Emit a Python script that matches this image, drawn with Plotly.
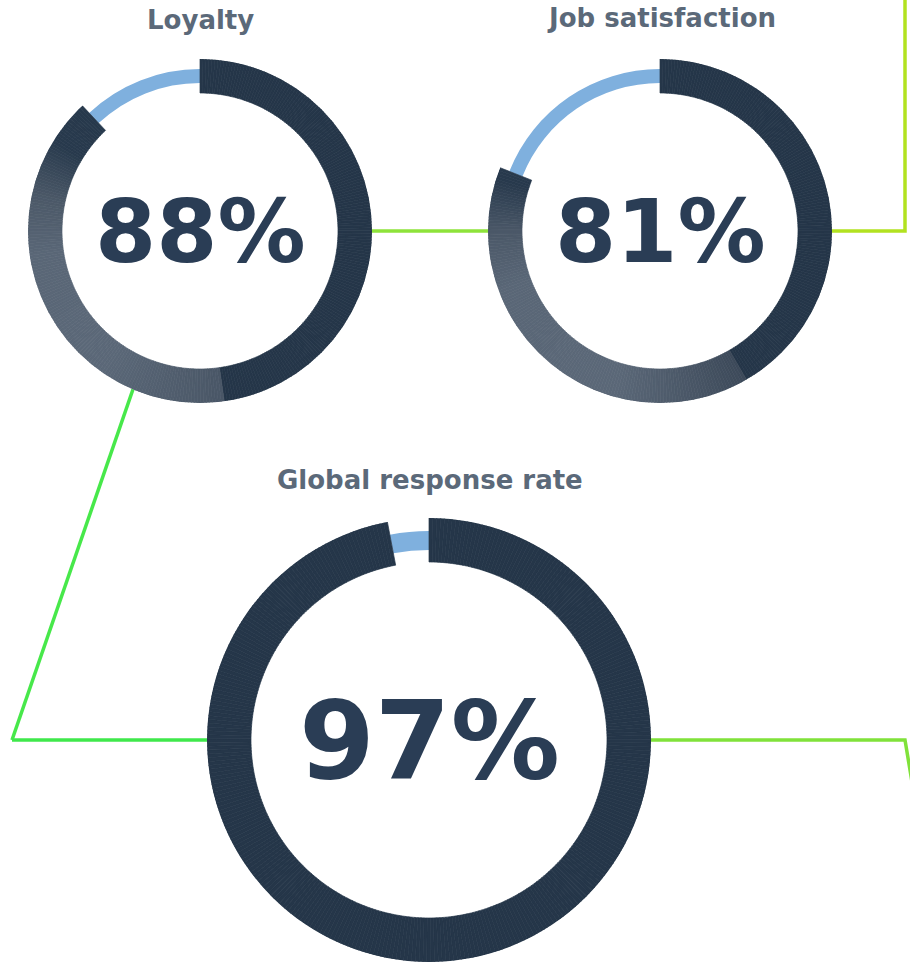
import numpy as np
import plotly.graph_objects as go

# ---- data -------------------------------------------------------------
metrics = ["Loyalty", "Job satisfaction", "Global response rate"]
scores = [88, 81, 97]          # percent

# ---- canvas / styling ---------------------------------------------------
W, H = 910, 970
DARK = "#253649"
TRACK = "#7fb0de"
TITLE_C = "#5b6979"
VALUE_C = "#2a3d55"
FONT = "DejaVu Sans"

# geometry of each gauge in pixels
rings = [
    dict(cx=200, cy=231, ro=172, ri=138, t0=148, t1=162, fs=88, ty=20, tx=200),
    dict(cx=660, cy=231, ro=172, ri=138, t0=148, t1=162, fs=88, ty=18, tx=661),
    dict(cx=429, cy=740, ro=222, ri=178, t0=190, t1=209, fs=109, ty=480, tx=430),
]

# shading along each arc: (angle clockwise from 12 o'clock, colour)
shading = [
    [(0, DARK), (172, DARK), (172, "#4a5767"), (215, "#5b6878"), (262, "#5a6777"),
     (282, "#4c5968"), (302, "#283a4d"), (360, DARK)],
    [(0, DARK), (150, DARK), (150, "#3d4a5a"), (195, "#5b6878"), (250, "#5a6777"),
     (270, "#4b5868"), (288, "#283a4d"), (360, DARK)],
    [(0, DARK), (360, DARK)],
]


def hex_rgb(h):
    h = h.lstrip("#")
    return np.array([int(h[i:i + 2], 16) for i in (0, 2, 4)], dtype=float)


def shade_at(stops, a):
    for (a0, c0), (a1, c1) in zip(stops[:-1], stops[1:]):
        if a0 <= a <= a1 and a1 > a0:
            f = (a - a0) / (a1 - a0)
            rgb = hex_rgb(c0) * (1 - f) + hex_rgb(c1) * f
            return "rgb({:.0f},{:.0f},{:.0f})".format(*rgb)
    return DARK


fig = go.Figure()

# ---- connector path (drawn underneath the gauges) -----------------------
connectors = [
    ([905, 905, 660], [-5, 231, 231], "#b2e220"),
    ([660, 200], [231, 231], "#8ee33a"),
    ([150, 12], [340, 740], "#47e84a"),
    ([12, 429], [740, 740], "#3fe84b"),
    ([429, 905, 912], [740, 740, 782], "#80e23a"),
]
for xs, ys, col in connectors:
    fig.add_trace(go.Scatter(x=xs, y=ys, mode="lines", hoverinfo="skip",
                             line=dict(color=col, width=3.5), showlegend=False))

# ---- gauges -------------------------------------------------------------
for k, (name, val, g, stops) in enumerate(zip(metrics, scores, rings, shading)):
    sub = "polar" if k == 0 else f"polar{k + 1}"
    span = val * 3.6
    n = int(np.ceil(span))
    edges = np.linspace(0, span, n + 1)
    mids = (edges[:-1] + edges[1:]) / 2
    widths = np.diff(edges)
    cols = [shade_at(stops, a) for a in mids]

    # remaining share: thin light track
    rest = 360 - span
    fig.add_trace(go.Barpolar(
        r=[g["t1"] - g["t0"]], base=[g["t0"]], theta=[span + rest / 2], width=[rest],
        marker=dict(color=TRACK, line=dict(width=0)),
        subplot=sub, hoverinfo="skip", showlegend=False))

    # achieved share: thick shaded arc
    fig.add_trace(go.Barpolar(
        r=[g["ro"] - g["ri"]] * n, base=[g["ri"]] * n, theta=mids, width=widths,
        marker=dict(color=cols, line=dict(color=cols, width=0.7)),
        subplot=sub, name=name, hovertemplate=f"{name}: {val}%<extra></extra>",
        showlegend=False))

    fig.update_layout(**{sub: dict(
        domain=dict(x=[(g["cx"] - g["ro"]) / W, (g["cx"] + g["ro"]) / W],
                    y=[1 - (g["cy"] + g["ro"]) / H, 1 - (g["cy"] - g["ro"]) / H]),
        bgcolor="white", bargap=0, hole=0,
        radialaxis=dict(range=[0, g["ro"]], visible=False),
        angularaxis=dict(rotation=90, direction="clockwise", visible=False),
    )})

    # value in the middle
    fig.add_annotation(x=g["cx"] / W, y=1 - g["cy"] / H, xref="paper", yref="paper",
                       text=f"{val}%", showarrow=False, xanchor="center", yanchor="middle",
                       font=dict(family=FONT, size=g["fs"], color=VALUE_C, weight="bold"))
    # metric title
    fig.add_annotation(x=g["tx"] / W, y=1 - g["ty"] / H, xref="paper", yref="paper",
                       text=name, showarrow=False, xanchor="center", yanchor="middle",
                       font=dict(family=FONT, size=26, color=TITLE_C, weight="bold"))

fig.update_layout(
    width=W, height=H,
    margin=dict(l=0, r=0, t=0, b=0),
    paper_bgcolor="white", plot_bgcolor="white",
    xaxis=dict(range=[0, W], visible=False, domain=[0, 1], fixedrange=True),
    yaxis=dict(range=[H, 0], visible=False, domain=[0, 1], fixedrange=True),
    showlegend=False,
)

fig.write_html("out.html")
